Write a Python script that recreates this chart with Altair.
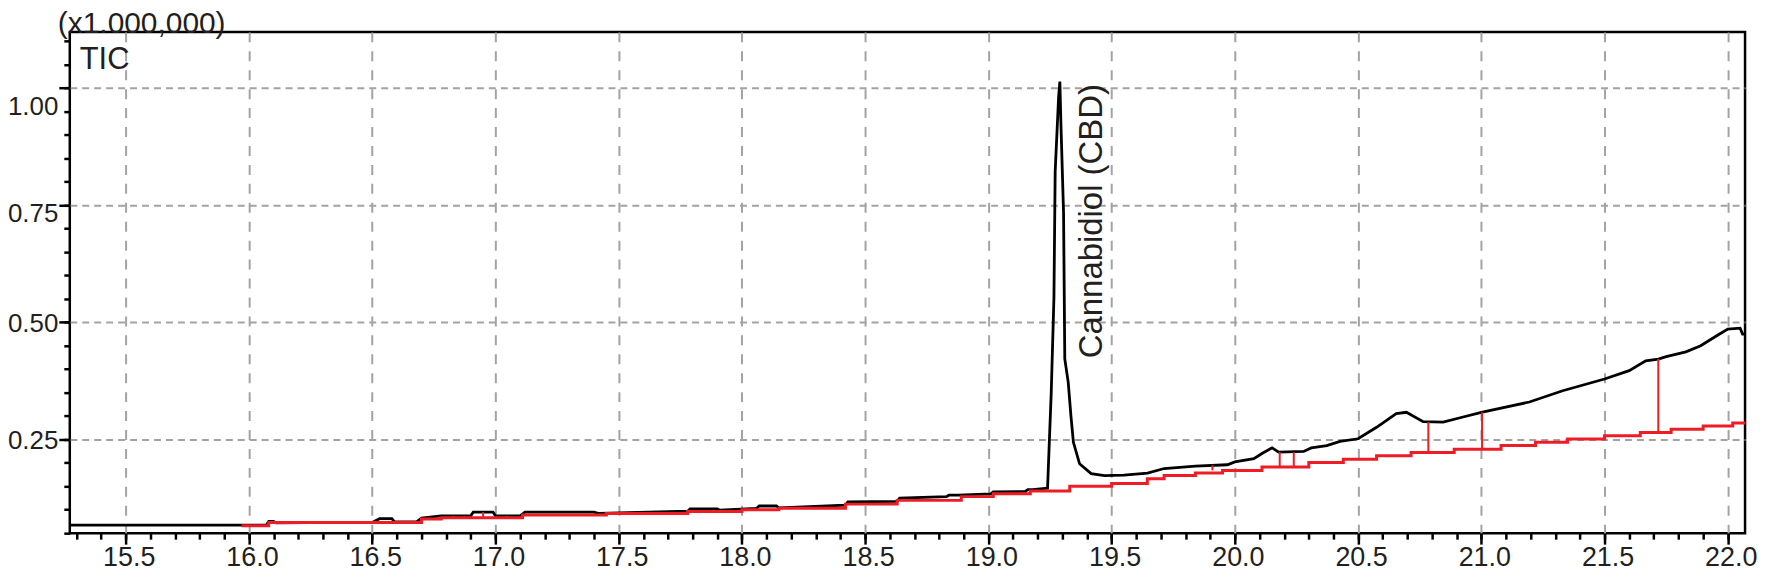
import altair as alt
import pandas as pd

# ---- data (retention time in min, intensity x1,000,000) ----
tic_time = [15.273, 15.97, 16.07, 16.08, 16.10, 16.11, 16.38, 16.50, 16.53, 16.58, 16.59, 16.68,
            16.70, 16.78, 16.90, 16.91, 16.99, 17.00, 17.10, 17.12, 17.40, 17.42, 17.78, 17.79,
            17.90, 17.91, 18.06, 18.07, 18.14, 18.15, 18.42, 18.43, 18.63, 18.64, 18.83, 18.84,
            18.88, 19.01, 19.02, 19.15, 19.16, 19.18, 19.24,
            19.241, 19.255, 19.266, 19.271, 19.285, 19.29, 19.294, 19.305, 19.31, 19.324, 19.335,
            19.345, 19.37, 19.417, 19.471, 19.55, 19.646, 19.713, 19.84, 19.97, 20.0, 20.077,
            20.11, 20.151, 20.178, 20.279, 20.31, 20.373, 20.427, 20.5, 20.575, 20.655, 20.696,
            20.764, 20.845, 20.926, 21.0, 21.195, 21.33, 21.5, 21.6, 21.667, 21.718, 21.75, 21.83,
            21.89, 21.96, 22.0, 22.05, 22.06, 22.07]
tic_value = [0.067, 0.067, 0.067, 0.075, 0.075, 0.072, 0.073, 0.073, 0.081, 0.081, 0.074, 0.074,
             0.082, 0.087, 0.087, 0.095, 0.095, 0.087, 0.087, 0.095, 0.095, 0.092, 0.097, 0.102,
             0.102, 0.099, 0.103, 0.108, 0.108, 0.104, 0.110, 0.117, 0.118, 0.125, 0.128, 0.131,
             0.131, 0.134, 0.138, 0.139, 0.143, 0.143, 0.146,
             0.159, 0.350, 0.553, 0.822, 0.982, 1.014, 0.929, 0.734, 0.422, 0.372, 0.300,
             0.244, 0.198, 0.177, 0.173, 0.174, 0.178, 0.188, 0.193, 0.196, 0.202, 0.209,
             0.220, 0.232, 0.223, 0.2245, 0.232, 0.237, 0.246, 0.2515, 0.276, 0.305, 0.308,
             0.288, 0.287, 0.298, 0.308, 0.330, 0.354, 0.379, 0.397, 0.418, 0.4217, 0.427, 0.437,
             0.450, 0.473, 0.4855, 0.4877, 0.475, 0.475]

base_time = [15.97, 16.08, 16.70, 16.78, 17.11, 17.45, 17.78, 18.00, 18.15, 18.42, 18.63, 18.89,
             19.02, 19.17, 19.33, 19.50, 19.645, 19.713, 19.84, 19.95, 20.11, 20.30, 20.44,
             20.575, 20.715, 20.89, 21.08, 21.22, 21.35, 21.50, 21.645, 21.77, 21.90, 22.02, 22.07]
base_value = [0.066, 0.073, 0.080, 0.083, 0.089, 0.092, 0.096, 0.100, 0.103, 0.112, 0.120, 0.128,
              0.134, 0.140, 0.150, 0.156, 0.166, 0.173, 0.1785, 0.184, 0.191, 0.201, 0.208,
              0.215, 0.222, 0.229, 0.237, 0.244, 0.251, 0.258, 0.265, 0.272, 0.279, 0.285, 0.285]

mark_time = [16.83, 16.875, 16.95, 17.045, 19.909, 20.182, 20.239, 20.785, 21.003, 21.718]
mark_low = [0.083, 0.083, 0.083, 0.083, 0.184, 0.191, 0.191, 0.222, 0.229, 0.265]
mark_high = [0.087, 0.087, 0.095, 0.087, 0.195, 0.223, 0.223, 0.287, 0.308, 0.4217]

peak_label = ["Cannabidiol (CBD)"]
peak_label_time = [19.422]
peak_label_value = [0.716]

x_major = [15.5, 16.0, 16.5, 17.0, 17.5, 18.0, 18.5, 19.0, 19.5, 20.0, 20.5, 21.0, 21.5, 22.0]
x_minor = [round(15.3 + 0.1 * i, 1) for i in range(68)]
y_major = [0.25, 0.50, 0.75, 1.00]
y_minor = [round(0.05 + 0.05 * i, 2) for i in range(22)]

FONT = "Liberation Sans"
TXT = "#231f20"
RED = "#ee1c25"
GRID = "#a3a3a3"

xs = alt.Scale(domain=[15.273, 22.07], nice=False, zero=False)
ys = alt.Scale(domain=[0.05, 1.12], nice=False, zero=False)

tic_df = pd.DataFrame({"t": tic_time, "v": tic_value})
base_df = pd.DataFrame({"t": base_time, "v": base_value})
mark_df = pd.DataFrame({"t": mark_time, "lo": mark_low, "hi": mark_high})
lab_df = pd.DataFrame({"t": peak_label_time, "v": peak_label_value, "label": peak_label})

x_axis_major = alt.Axis(
    values=x_major, format=".1f", orient="bottom", title=None, domain=False,
    tickSize=11, tickWidth=2.5, tickColor="black", labelPadding=0, labelOffset=3,
    labelFontSize=27, labelFont=FONT, labelColor=TXT, labelFlush=False,
    grid=True, gridDash=[10, 9], gridColor=GRID, gridWidth=2)
y_axis_major = alt.Axis(
    values=y_major, format=".2f", orient="left", title=None, domain=False,
    tickSize=11, tickWidth=2.5, tickColor="black", labelPadding=1,
    labelOffset={"condition": [{"test": "datum.value == 1", "value": 18},
                               {"test": "datum.value == 0.75", "value": 8}],
                 "value": 1},
    labelFontSize=26, labelFont=FONT, labelColor=TXT, labelFlush=False,
    grid=True, gridDash=[7, 5], gridColor=GRID, gridWidth=2)
x_axis_minor = alt.Axis(values=x_minor, orient="bottom", title=None, domain=False, labels=False,
                        grid=False, tickSize=6, tickWidth=2.5, tickColor="black")
y_axis_minor = alt.Axis(values=y_minor, orient="left", title=None, domain=False, labels=False,
                        grid=False, tickSize=6, tickWidth=2.5, tickColor="black")

tic_line = alt.Chart(tic_df).mark_line(color="black", strokeWidth=2.8).encode(
    x=alt.X("t:Q", scale=xs, axis=x_axis_major),
    y=alt.Y("v:Q", scale=ys, axis=y_axis_major),
    order="t:Q",
)
base_line = alt.Chart(base_df).mark_line(color=RED, strokeWidth=3, interpolate="step-after").encode(
    x=alt.X("t:Q", scale=xs, axis=x_axis_minor),
    y=alt.Y("v:Q", scale=ys, axis=y_axis_minor),
)
markers = alt.Chart(mark_df).mark_rule(color=RED, strokeWidth=2).encode(
    x=alt.X("t:Q", scale=xs, axis=None),
    y=alt.Y("lo:Q", scale=ys, axis=None),
    y2="hi:Q",
)
peak_text = alt.Chart(lab_df).mark_text(
    angle=270, align="center", baseline="middle", fontSize=33, font=FONT, color=TXT
).encode(
    x=alt.X("t:Q", scale=xs, axis=None),
    y=alt.Y("v:Q", scale=ys, axis=None),
    text="label:N",
)
tic_text = alt.Chart(pd.DataFrame({"label": ["TIC"]})).mark_text(
    align="left", baseline="alphabetic", fontSize=31, font=FONT, color=TXT
).encode(x=alt.value(10), y=alt.value(37), text="label:N")
unit_text = alt.Chart(pd.DataFrame({"label": ["(x1.000,000)"]})).mark_text(
    align="left", baseline="alphabetic", fontSize=30, font=FONT, color=TXT
).encode(x=alt.value(-12), y=alt.value(1), text="label:N")

chart = (
    alt.layer(tic_line, base_line, markers, peak_text, tic_text, unit_text)
    .resolve_axis(x="independent", y="independent")
    .properties(
        width=1681, height=503,
        autosize=alt.AutoSizeParams(type="none"),
        padding={"left": 62, "top": 23, "right": 14, "bottom": 39},
        background="white",
    )
    .configure_view(stroke="black", strokeWidth=2.5)
)

chart.save("out.html", embed_options={"renderer": "svg", "actions": False})
